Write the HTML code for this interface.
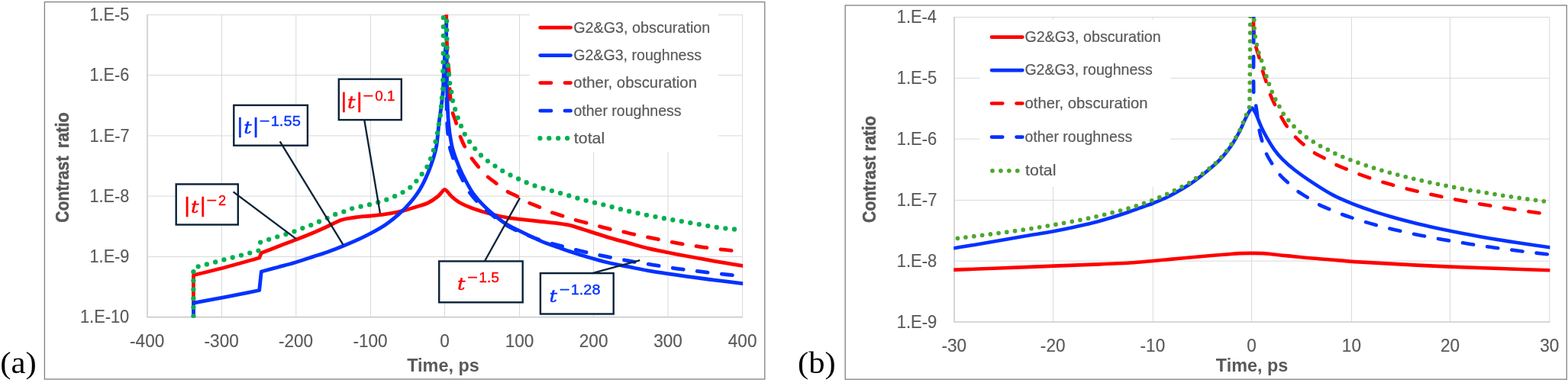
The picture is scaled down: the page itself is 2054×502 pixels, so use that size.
<!DOCTYPE html>
<html lang="en"><head><meta charset="utf-8"><title>Contrast ratio vs time</title>
<style>html,body{margin:0;padding:0;background:#fff;overflow:hidden}svg{display:block}</style></head><body>
<svg width="2054" height="502" viewBox="0 0 2054 502" role="img" aria-label="Contrast ratio versus time, panels (a) and (b)">
<rect width="2054" height="502" fill="#fff"/>
<rect x="58.40" y="2.55" width="943.40" height="494.40" fill="#fff" stroke="#808080" stroke-width="1.3"/>
<path d="M290.50 19.40V415.60M387.80 19.40V415.60M485.40 19.40V415.60M582.50 19.40V415.60M680.50 19.40V415.60M777.60 19.40V415.60M875.00 19.40V415.60M972.60 19.40V415.60M193.00 19.50H972.60M193.00 98.50H972.60M193.00 177.90H972.60M193.00 257.10H972.60M193.00 336.50H972.60" stroke="#d9d9d9" stroke-width="1" fill="none"/>
<path d="M193.00 18.90V415.60H973.10" stroke="#cbcbcb" stroke-width="1.6" fill="none" stroke-linejoin="miter"/>
<rect x="694.0" y="18.0" width="246.6" height="181.5" fill="#fff"/>
<clipPath id="cl"><rect x="192.2" y="18.9" width="781.0" height="397.4"/></clipPath>
<g clip-path="url(#cl)" fill="none" stroke-linejoin="round">
<path d="M253.40 415.50 L253.40 360.80 C267.77 357.20 282.18 353.78 296.50 350.00 C310.88 346.20 325.30 342.00 339.70 338.00 L342.30 331.60 C349.63 328.73 356.95 325.82 364.30 323.00 C371.92 320.08 380.70 316.93 388.00 314.10 C394.73 311.49 401.45 308.81 408.10 306.00 C414.77 303.18 421.43 300.17 428.00 297.20 C434.52 294.25 441.38 290.23 447.50 288.20 C453.03 286.36 458.92 285.79 464.70 285.00 C471.02 284.13 478.92 283.68 485.40 283.00 C491.47 282.36 497.56 281.80 503.60 280.90 C510.08 279.93 517.48 278.80 524.30 277.20 C531.20 275.58 538.97 273.07 545.00 271.20 C550.21 269.59 555.75 268.28 560.50 266.00 C565.17 263.76 570.28 260.07 573.50 257.50 C575.93 255.56 578.27 252.13 579.80 250.60 C580.67 249.73 581.73 248.30 582.70 248.30 C583.67 248.30 584.74 249.71 585.60 250.60 C587.08 252.13 589.34 255.45 591.60 257.50 C594.33 259.98 598.20 263.33 602.00 265.50 C606.53 268.08 613.04 270.91 618.80 273.00 C625.92 275.58 636.93 278.95 644.70 281.00 C651.51 282.80 658.92 284.20 665.40 285.30 C671.43 286.32 677.53 286.88 683.60 287.60 C690.95 288.47 701.73 289.67 709.50 290.50 C716.40 291.24 724.13 291.82 730.20 292.60 C735.46 293.28 740.76 293.90 745.90 295.20 C752.83 296.95 763.19 300.41 771.80 303.10 C780.43 305.80 789.07 308.82 797.70 311.40 C806.28 313.97 814.97 316.23 823.60 318.60 C832.22 320.96 840.87 323.53 849.50 325.60 C858.08 327.65 866.77 329.27 875.40 331.00 C884.02 332.73 892.68 334.38 901.30 336.00 C909.89 337.61 918.49 339.17 927.10 340.70 C935.72 342.23 945.40 343.92 953.00 345.20 C959.56 346.31 966.13 347.33 972.70 348.40" stroke="#ff0000" stroke-width="4.8" stroke-linecap="round"/>
<path d="M253.40 415.50 L253.40 397.10 C267.77 394.43 282.15 391.86 296.50 389.10 C310.88 386.33 325.30 383.37 339.70 380.50 L342.30 356.00 C349.53 354.07 356.77 352.15 364.00 350.20 C371.42 348.20 379.25 346.25 386.80 344.00 C394.42 341.73 402.75 338.87 409.70 336.60 C415.97 334.55 422.29 332.62 428.50 330.40 C435.08 328.05 442.39 325.35 449.20 322.50 C457.40 319.07 468.63 314.32 477.70 309.80 C486.54 305.40 496.27 300.13 503.60 295.40 C510.01 291.26 516.10 286.33 521.70 281.40 C527.20 276.55 532.45 271.37 537.20 265.80 C541.95 260.23 546.42 254.30 550.20 248.00 C554.08 241.53 557.48 234.13 560.50 227.00 C563.51 219.89 566.38 211.37 568.30 205.20 C569.85 200.22 571.21 195.15 572.00 190.00 C573.15 182.47 574.20 168.33 575.20 160.00 C576.00 153.32 577.17 146.67 578.00 140.00 C578.83 133.34 579.72 126.69 580.20 120.00 C580.80 111.67 581.15 98.33 581.60 90.00 C581.96 83.33 582.45 75.13 582.90 70.00 C583.22 66.38 583.83 62.80 584.30 59.20 C584.53 62.80 584.88 66.39 585.00 70.00 C585.17 75.13 585.21 83.33 585.30 90.00 C585.42 98.33 585.40 110.00 585.70 120.00 C586.05 131.67 586.40 148.33 587.40 160.00 C588.26 170.07 589.92 181.55 591.70 190.00 C593.19 197.07 595.73 204.23 598.10 210.70 C600.36 216.87 602.96 222.92 605.90 228.80 C609.35 235.70 614.48 245.62 618.80 252.10 C622.55 257.73 627.12 262.81 631.80 267.70 C636.55 272.67 642.12 277.58 647.30 281.90 C652.29 286.06 657.36 290.20 662.90 293.60 C668.95 297.32 676.64 300.79 683.60 304.20 C691.37 308.00 702.17 313.27 709.50 316.40 C715.41 318.92 721.55 320.84 727.60 323.00 C733.67 325.17 739.76 327.39 745.90 329.40 C753.27 331.82 763.17 334.98 771.80 337.50 C780.39 340.00 789.07 342.47 797.70 344.50 C806.27 346.52 814.97 347.97 823.60 349.70 C832.23 351.43 840.87 353.38 849.50 354.90 C858.10 356.41 866.77 357.52 875.40 358.80 C884.03 360.08 892.68 361.40 901.30 362.60 C909.89 363.80 918.49 364.92 927.10 366.00 C935.72 367.08 945.40 368.15 953.00 369.10 C959.57 369.92 966.13 370.83 972.70 371.70" stroke="#0432ff" stroke-width="4.8" stroke-linecap="round"/>
<path d="M584.70 19.30 C584.77 27.87 584.75 38.22 584.90 45.00 C585.01 50.00 585.36 55.00 585.60 60.00 C585.87 65.50 586.07 72.17 586.50 78.00 C586.92 83.68 587.79 89.32 588.20 95.00 C588.62 100.83 588.73 107.72 589.00 113.00 C589.23 117.57 589.35 122.15 589.80 126.70 C590.32 131.98 590.92 139.32 592.10 144.70 C593.18 149.61 595.40 154.20 596.90 159.00 C598.50 164.13 599.90 170.35 601.70 175.50 C603.42 180.41 605.42 185.23 607.70 189.90 C610.08 194.78 613.02 200.22 616.00 204.80 C618.88 209.23 622.23 213.34 625.60 217.40 C629.10 221.62 633.17 226.47 637.00 230.10 C640.57 233.48 644.70 236.21 648.60 239.20 C652.92 242.52 657.93 246.90 662.90 250.00 C667.81 253.06 673.67 255.28 678.40 257.80 C682.76 260.12 686.85 262.95 691.30 265.10 C696.05 267.40 701.93 269.45 706.90 271.60 C711.66 273.66 716.24 276.18 721.10 278.00 C726.27 279.93 732.72 281.55 737.90 283.20 C742.68 284.72 747.38 286.49 752.20 287.90 C757.38 289.42 763.82 290.92 769.00 292.30 C773.77 293.57 778.53 294.93 783.30 296.20 C788.48 297.58 794.93 299.40 800.10 300.60 C804.80 301.69 809.58 302.38 814.30 303.40 C819.48 304.52 825.55 306.08 831.20 307.30 C837.92 308.75 846.80 310.52 854.60 312.10 C863.90 313.98 876.20 316.65 887.00 318.60 C897.76 320.54 908.62 322.28 919.40 323.80 C930.14 325.31 942.82 326.67 951.70 327.70 C958.69 328.51 965.70 329.23 972.70 330.00" stroke="#ff0000" stroke-width="4.8" stroke-linecap="round" stroke-dasharray="14.2 18.1" stroke-dashoffset="31.94"/>
<path d="M584.65 19.30 C584.67 32.87 584.66 49.88 584.70 60.00 C584.73 66.67 584.86 73.33 584.90 80.00 C584.97 90.00 584.98 106.67 585.10 120.00 C585.22 133.33 585.02 148.33 585.60 160.00 C586.10 170.04 587.23 182.00 588.60 190.00 C589.65 196.16 592.17 203.03 593.80 208.00 C595.12 212.01 596.90 216.22 598.40 219.80 C599.77 223.08 601.17 226.34 602.80 229.50 C605.57 234.87 610.60 245.50 615.00 252.00 C619.07 258.01 624.13 263.43 629.20 268.50 C634.23 273.53 640.00 278.08 645.40 282.40 C650.65 286.60 655.83 290.96 661.60 294.40 C667.97 298.20 676.12 301.92 683.60 305.20 C691.58 308.70 702.13 312.83 709.50 315.40 C715.49 317.49 721.67 318.97 727.80 320.60 C736.02 322.78 748.45 326.03 758.80 328.50 C769.13 330.96 779.50 333.25 789.90 335.40 C800.70 337.63 812.82 339.95 823.60 341.90 C833.91 343.76 844.26 345.44 854.60 347.10 C865.38 348.83 877.50 350.78 888.30 352.30 C898.65 353.75 909.03 354.97 919.40 356.20 C930.18 357.48 944.12 359.03 953.00 360.00 C959.56 360.71 966.13 361.33 972.70 362.00" stroke="#0432ff" stroke-width="4.8" stroke-linecap="round" stroke-dasharray="14.2 18.1" stroke-dashoffset="19.36"/>
<path d="M253.40 415.50 L253.40 351.00 L338.90 328.50 L341.00 317.60 C344.73 316.33 348.50 315.02 352.20 313.80 C355.86 312.60 359.52 311.42 363.20 310.30 C366.93 309.17 370.83 308.18 374.60 307.00 C378.36 305.82 382.12 304.55 385.80 303.20 C389.47 301.86 393.13 300.25 396.70 298.90 C400.18 297.58 403.74 296.47 407.20 295.10 C410.75 293.70 414.41 292.06 418.00 290.50 C421.62 288.93 425.37 287.30 428.90 285.70 C432.35 284.14 435.73 282.25 439.20 280.90 C442.62 279.57 446.23 278.80 449.70 277.60 C453.17 276.40 456.49 274.76 460.00 273.70 C463.80 272.55 468.33 271.69 472.50 270.70 C478.25 269.33 487.28 267.67 494.50 265.50 C501.83 263.30 509.41 260.77 516.50 257.50 C523.62 254.22 531.15 250.72 537.20 245.80 C543.25 240.88 549.08 232.53 552.80 228.00 C555.24 225.02 557.61 221.95 559.50 218.60 C561.40 215.23 562.80 211.40 564.20 207.80 C565.58 204.25 566.84 200.66 567.90 197.00 C568.97 193.32 569.75 189.48 570.60 185.70 C571.45 181.92 572.29 178.12 573.00 174.30 C573.72 170.43 574.25 166.38 574.90 162.50 C575.54 158.66 576.38 154.86 576.90 151.00 C577.42 147.13 577.65 143.18 578.00 139.30 C578.35 135.43 578.64 131.56 579.00 127.70 C579.37 123.82 580.05 119.92 580.20 116.00 C580.43 110.05 580.30 99.83 580.40 92.00 C580.50 84.33 580.76 76.67 580.80 69.00 C580.87 56.00 580.80 32.33 580.80 14.00" stroke="#00b050" stroke-width="6.3" stroke-linecap="round" stroke-dasharray="0 11.65" stroke-dashoffset="10.60"/>
<path d="M585.00 14.00 C585.10 26.00 585.20 41.93 585.30 50.00 C585.35 54.13 585.45 58.38 585.60 62.40 C585.75 66.30 586.00 70.20 586.20 74.10 C586.40 78.02 586.50 81.98 586.80 85.90 C587.10 89.81 587.59 93.70 588.00 97.60 C588.42 101.53 588.77 105.68 589.30 109.50 C589.81 113.19 590.59 116.83 591.20 120.50 C591.83 124.30 592.25 128.43 593.10 132.30 C593.95 136.15 595.17 139.95 596.30 143.70 C597.43 147.42 598.60 151.17 599.90 154.80 C601.19 158.41 602.61 161.97 604.10 165.50 C605.60 169.05 607.05 172.70 608.90 176.10 C610.75 179.50 612.94 182.74 615.20 185.90 C617.48 189.10 620.07 192.30 622.60 195.30 C625.10 198.26 627.61 201.22 630.40 203.90 C633.20 206.58 636.42 209.15 639.40 211.40 C642.26 213.55 645.32 215.42 648.30 217.40 C651.57 219.57 655.27 222.33 659.00 224.40 C664.23 227.30 672.72 231.60 679.70 234.80 C686.66 237.99 693.68 241.06 700.90 243.60 C708.23 246.18 716.23 248.15 723.70 250.30 C731.02 252.41 738.37 254.41 745.70 256.50 C753.12 258.62 760.65 261.00 768.20 263.00 C775.75 265.00 783.53 266.63 791.00 268.50 C798.35 270.34 805.64 272.40 813.00 274.20 C820.55 276.05 828.50 277.95 836.30 279.60 C845.83 281.62 860.80 284.55 870.20 286.30 C877.68 287.69 885.20 288.83 892.70 290.10 C900.25 291.38 907.90 292.71 915.50 294.00 C923.18 295.30 931.03 296.82 938.80 297.90 C946.54 298.98 956.45 299.90 962.10 300.50 C965.63 300.87 969.17 301.17 972.70 301.50" stroke="#00b050" stroke-width="6.3" stroke-linecap="round" stroke-dasharray="0 11.65" stroke-dashoffset="9.63"/>
</g>
<path d="M707.7 36.2H747.5" stroke="#ff0000" stroke-width="4.8" stroke-linecap="round"/>
<text x="751.21" y="42.50" font-family='"Liberation Sans", sans-serif' font-size="20.8" fill="#595959" textLength="179.08" lengthAdjust="spacingAndGlyphs" stroke="#595959" stroke-width="0.2">G2&amp;G3, obscuration</text>
<path d="M707.7 72.6H747.5" stroke="#0432ff" stroke-width="4.8" stroke-linecap="round"/>
<text x="751.21" y="78.90" font-family='"Liberation Sans", sans-serif' font-size="20.8" fill="#595959" textLength="167.90" lengthAdjust="spacingAndGlyphs" stroke="#595959" stroke-width="0.2">G2&amp;G3, roughness</text>
<path d="M707.7 108.6H747.5" stroke="#ff0000" stroke-width="4.8" stroke-linecap="round" stroke-dasharray="14.2 18.1"/>
<text x="751.35" y="114.90" font-family='"Liberation Sans", sans-serif' font-size="20.8" fill="#595959" textLength="161.66" lengthAdjust="spacingAndGlyphs" stroke="#595959" stroke-width="0.2">other, obscuration</text>
<path d="M707.7 145.2H747.5" stroke="#0432ff" stroke-width="4.8" stroke-linecap="round" stroke-dasharray="14.2 18.1"/>
<text x="751.38" y="151.50" font-family='"Liberation Sans", sans-serif' font-size="20.8" fill="#595959" textLength="141.23" lengthAdjust="spacingAndGlyphs" stroke="#595959" stroke-width="0.2">other roughness</text>
<path d="M707.4 181.2H747.8" stroke="#00b050" stroke-width="6.3" stroke-linecap="round" stroke-dasharray="0 11.9"/>
<text x="751.88" y="187.50" font-family='"Liberation Sans", sans-serif' font-size="20.8" fill="#595959" textLength="40.35" lengthAdjust="spacingAndGlyphs" stroke="#595959" stroke-width="0.2">total</text>
<text x="117.55" y="27.10" font-family='"Liberation Sans", sans-serif' font-size="24.3" fill="#595959" textLength="51.76" lengthAdjust="spacingAndGlyphs" stroke="#595959" stroke-width="0.15">1.E-5</text>
<text x="117.55" y="106.10" font-family='"Liberation Sans", sans-serif' font-size="24.3" fill="#595959" textLength="51.80" lengthAdjust="spacingAndGlyphs" stroke="#595959" stroke-width="0.15">1.E-6</text>
<text x="117.54" y="185.50" font-family='"Liberation Sans", sans-serif' font-size="24.3" fill="#595959" textLength="51.95" lengthAdjust="spacingAndGlyphs" stroke="#595959" stroke-width="0.15">1.E-7</text>
<text x="117.55" y="264.70" font-family='"Liberation Sans", sans-serif' font-size="24.3" fill="#595959" textLength="51.79" lengthAdjust="spacingAndGlyphs" stroke="#595959" stroke-width="0.15">1.E-8</text>
<text x="117.55" y="344.10" font-family='"Liberation Sans", sans-serif' font-size="24.3" fill="#595959" textLength="51.88" lengthAdjust="spacingAndGlyphs" stroke="#595959" stroke-width="0.15">1.E-9</text>
<text x="104.94" y="423.20" font-family='"Liberation Sans", sans-serif' font-size="24.3" fill="#595959" textLength="64.32" lengthAdjust="spacingAndGlyphs" stroke="#595959" stroke-width="0.15">1.E-10</text>
<text x="170.08" y="455.00" font-family='"Liberation Sans", sans-serif' font-size="24.3" fill="#595959" textLength="45.23" lengthAdjust="spacingAndGlyphs" stroke="#595959" stroke-width="0.15">-400</text>
<text x="267.58" y="455.00" font-family='"Liberation Sans", sans-serif' font-size="24.3" fill="#595959" textLength="45.23" lengthAdjust="spacingAndGlyphs" stroke="#595959" stroke-width="0.15">-300</text>
<text x="364.88" y="455.00" font-family='"Liberation Sans", sans-serif' font-size="24.3" fill="#595959" textLength="45.23" lengthAdjust="spacingAndGlyphs" stroke="#595959" stroke-width="0.15">-200</text>
<text x="462.48" y="455.00" font-family='"Liberation Sans", sans-serif' font-size="24.3" fill="#595959" textLength="45.23" lengthAdjust="spacingAndGlyphs" stroke="#595959" stroke-width="0.15">-100</text>
<text x="576.22" y="455.00" font-family='"Liberation Sans", sans-serif' font-size="24.3" fill="#595959" textLength="12.57" lengthAdjust="spacingAndGlyphs" stroke="#595959" stroke-width="0.15">0</text>
<text x="661.65" y="455.00" font-family='"Liberation Sans", sans-serif' font-size="24.3" fill="#595959" textLength="37.71" lengthAdjust="spacingAndGlyphs" stroke="#595959" stroke-width="0.15">100</text>
<text x="758.75" y="455.00" font-family='"Liberation Sans", sans-serif' font-size="24.3" fill="#595959" textLength="37.71" lengthAdjust="spacingAndGlyphs" stroke="#595959" stroke-width="0.15">200</text>
<text x="856.15" y="455.00" font-family='"Liberation Sans", sans-serif' font-size="24.3" fill="#595959" textLength="37.71" lengthAdjust="spacingAndGlyphs" stroke="#595959" stroke-width="0.15">300</text>
<text x="953.75" y="455.00" font-family='"Liberation Sans", sans-serif' font-size="24.3" fill="#595959" textLength="37.71" lengthAdjust="spacingAndGlyphs" stroke="#595959" stroke-width="0.15">400</text>
<text transform="translate(90.30 290.80) rotate(-90)" font-family='"Liberation Sans", sans-serif' font-size="24.2" font-weight="bold" fill="#595959" stroke="#595959" stroke-width="0.5"><tspan x="-0.87" y="0" textLength="87.13" lengthAdjust="spacingAndGlyphs">Contrast</tspan><tspan x="90.53" y="0" textLength="53.12" lengthAdjust="spacingAndGlyphs"> ratio</tspan></text>
<text x="533.24" y="487.10" font-family='"Liberation Sans", sans-serif' font-size="24.3" font-weight="bold" fill="#595959" textLength="94.52" lengthAdjust="spacingAndGlyphs" >Time, ps</text>
<rect x="230.70" y="241.40" width="81.10" height="53.10" fill="#fff" stroke="#0a2238" stroke-width="2.4"/>
<path d="M305.5 251.4L388.0 313.2" stroke="#0a2238" stroke-width="2.3" fill="none"/>
<text x="241.6" y="278.2" font-family='"Liberation Sans", sans-serif' font-size="27.4" font-weight="normal" text-anchor="start" fill="#ff0000" stroke="#ff0000" stroke-width="0.5">|</text>
<text x="262.2" y="278.2" font-family='"Liberation Sans", sans-serif' font-size="27.4" font-weight="normal" text-anchor="start" fill="#ff0000" stroke="#ff0000" stroke-width="0.5">|</text>
<text x="249.97" y="279.10" font-family='"DejaVu Serif", "Liberation Serif", serif' font-size="23.0" font-style="italic" fill="#ff0000" textLength="10.49" lengthAdjust="spacingAndGlyphs" stroke="#ff0000" stroke-width="0.45">t</text>
<text x="270.54" y="269.00" font-family='"Liberation Sans", sans-serif' font-size="18.8" fill="#ff0000" textLength="13.70" lengthAdjust="spacingAndGlyphs" stroke="#ff0000" stroke-width="0.35">−</text>
<text x="286.08" y="269.00" font-family='"Liberation Sans", sans-serif' font-size="18.8" fill="#ff0000" textLength="10.13" lengthAdjust="spacingAndGlyphs" stroke="#ff0000" stroke-width="0.35">2</text>
<rect x="306.30" y="137.90" width="96.60" height="52.80" fill="#fff" stroke="#0a2238" stroke-width="2.4"/>
<path d="M366.7 185.3L449.7 321.2" stroke="#0a2238" stroke-width="2.3" fill="none"/>
<text x="310.8" y="174.1" font-family='"Liberation Sans", sans-serif' font-size="27.4" font-weight="normal" text-anchor="start" fill="#0432ff" stroke="#0432ff" stroke-width="0.5">|</text>
<text x="331.4" y="174.1" font-family='"Liberation Sans", sans-serif' font-size="27.4" font-weight="normal" text-anchor="start" fill="#0432ff" stroke="#0432ff" stroke-width="0.5">|</text>
<text x="319.17" y="175.00" font-family='"DejaVu Serif", "Liberation Serif", serif' font-size="23.0" font-style="italic" fill="#0432ff" textLength="10.49" lengthAdjust="spacingAndGlyphs" stroke="#0432ff" stroke-width="0.45">t</text>
<text x="339.74" y="164.90" font-family='"Liberation Sans", sans-serif' font-size="18.8" fill="#0432ff" textLength="13.70" lengthAdjust="spacingAndGlyphs" stroke="#0432ff" stroke-width="0.35">−</text>
<text x="354.67" y="164.90" font-family='"Liberation Sans", sans-serif' font-size="18.8" fill="#0432ff" textLength="39.18" lengthAdjust="spacingAndGlyphs" stroke="#0432ff" stroke-width="0.35">1.55</text>
<rect x="443.80" y="103.70" width="82.00" height="53.40" fill="#fff" stroke="#0a2238" stroke-width="2.4"/>
<path d="M477.3 157.5L497.9 279.5" stroke="#0a2238" stroke-width="2.3" fill="none"/>
<text x="446.7" y="140.7" font-family='"Liberation Sans", sans-serif' font-size="27.4" font-weight="normal" text-anchor="start" fill="#ff0000" stroke="#ff0000" stroke-width="0.5">|</text>
<text x="467.3" y="140.7" font-family='"Liberation Sans", sans-serif' font-size="27.4" font-weight="normal" text-anchor="start" fill="#ff0000" stroke="#ff0000" stroke-width="0.5">|</text>
<text x="455.07" y="141.60" font-family='"DejaVu Serif", "Liberation Serif", serif' font-size="23.0" font-style="italic" fill="#ff0000" textLength="10.49" lengthAdjust="spacingAndGlyphs" stroke="#ff0000" stroke-width="0.45">t</text>
<text x="475.64" y="131.50" font-family='"Liberation Sans", sans-serif' font-size="18.8" fill="#ff0000" textLength="13.70" lengthAdjust="spacingAndGlyphs" stroke="#ff0000" stroke-width="0.35">−</text>
<text x="491.36" y="131.50" font-family='"Liberation Sans", sans-serif' font-size="18.8" fill="#ff0000" textLength="26.26" lengthAdjust="spacingAndGlyphs" stroke="#ff0000" stroke-width="0.35">0.1</text>
<rect x="575.20" y="342.40" width="109.50" height="53.90" fill="#fff" stroke="#0a2238" stroke-width="2.4"/>
<path d="M634.8 342.5L681.0 259.4" stroke="#0a2238" stroke-width="2.3" fill="none"/>
<text x="598.97" y="380.40" font-family='"DejaVu Serif", "Liberation Serif", serif' font-size="23.0" font-style="italic" fill="#ff0000" textLength="10.49" lengthAdjust="spacingAndGlyphs" stroke="#ff0000" stroke-width="0.45">t</text>
<text x="612.24" y="370.30" font-family='"Liberation Sans", sans-serif' font-size="18.8" fill="#ff0000" textLength="13.70" lengthAdjust="spacingAndGlyphs" stroke="#ff0000" stroke-width="0.35">−</text>
<text x="627.23" y="370.30" font-family='"Liberation Sans", sans-serif' font-size="18.8" fill="#ff0000" textLength="26.78" lengthAdjust="spacingAndGlyphs" stroke="#ff0000" stroke-width="0.35">1.5</text>
<rect x="707.90" y="358.10" width="95.80" height="53.40" fill="#fff" stroke="#0a2238" stroke-width="2.4"/>
<path d="M775.8 358.2L838.3 341.1" stroke="#0a2238" stroke-width="2.3" fill="none"/>
<text x="719.57" y="395.60" font-family='"DejaVu Serif", "Liberation Serif", serif' font-size="23.0" font-style="italic" fill="#0432ff" textLength="10.49" lengthAdjust="spacingAndGlyphs" stroke="#0432ff" stroke-width="0.45">t</text>
<text x="732.84" y="385.50" font-family='"Liberation Sans", sans-serif' font-size="18.8" fill="#0432ff" textLength="13.70" lengthAdjust="spacingAndGlyphs" stroke="#0432ff" stroke-width="0.35">−</text>
<text x="747.79" y="385.50" font-family='"Liberation Sans", sans-serif' font-size="18.8" fill="#0432ff" textLength="38.68" lengthAdjust="spacingAndGlyphs" stroke="#0432ff" stroke-width="0.35">1.28</text>
<rect x="1107.20" y="7.00" width="945.10" height="490.20" fill="#fff" stroke="#808080" stroke-width="1.3"/>
<path d="M1379.50 22.50V422.00M1510.20 22.50V422.00M1639.60 22.50V422.00M1770.40 22.50V422.00M1899.50 22.50V422.00M2029.80 22.50V422.00M1250.10 22.50H2029.80M1250.10 102.40H2029.80M1250.10 182.20H2029.80M1250.10 262.40H2029.80M1250.10 342.10H2029.80" stroke="#d9d9d9" stroke-width="1" fill="none"/>
<path d="M1250.10 22.00V422.00H2030.30" stroke="#cbcbcb" stroke-width="1.6" fill="none" stroke-linejoin="miter"/>
<rect x="1283.3" y="25.6" width="250.0" height="219.4" fill="#fff"/>
<clipPath id="cr"><rect x="1249.3" y="22.0" width="781.1" height="400.7"/></clipPath>
<g clip-path="url(#cr)" fill="none" stroke-linejoin="round">
<path d="M1250.00 353.60 C1267.33 353.00 1284.67 352.47 1302.00 351.80 C1323.63 350.97 1356.80 349.50 1379.80 348.60 C1399.86 347.81 1423.30 347.08 1440.00 346.40 C1453.34 345.85 1468.28 345.23 1480.00 344.50 C1490.11 343.87 1500.20 342.89 1510.30 342.00 C1521.08 341.05 1533.23 339.85 1544.70 338.80 C1556.92 337.68 1572.80 336.22 1583.60 335.30 C1592.23 334.57 1602.93 333.83 1609.50 333.30 C1614.00 332.93 1618.49 332.31 1623.00 332.10 C1628.08 331.87 1634.67 331.90 1640.00 331.90 C1645.00 331.90 1650.60 331.87 1655.00 332.10 C1658.82 332.30 1662.60 332.91 1666.40 333.30 C1671.75 333.85 1680.20 334.70 1687.10 335.40 C1694.87 336.18 1704.37 337.23 1713.00 338.00 C1721.63 338.77 1730.27 339.30 1738.90 340.00 C1750.07 340.90 1766.28 342.58 1780.00 343.40 C1806.70 345.00 1859.38 347.87 1899.10 349.60 C1940.77 351.42 1986.37 352.73 2030.00 354.30" stroke="#ff0000" stroke-width="4.6" stroke-linecap="round"/>
<path d="M1250.00 325.20 C1258.77 323.77 1267.62 322.33 1276.30 320.90 C1284.90 319.48 1293.50 318.06 1302.10 316.60 C1310.72 315.13 1319.37 313.60 1328.00 312.10 C1336.63 310.60 1345.27 309.08 1353.90 307.60 C1362.53 306.12 1371.19 304.80 1379.80 303.20 C1388.43 301.60 1397.09 299.85 1405.70 298.00 C1414.33 296.15 1423.02 294.30 1431.60 292.10 C1440.23 289.88 1449.73 287.05 1457.50 284.70 C1464.44 282.60 1471.34 280.35 1478.20 278.00 C1485.10 275.63 1493.55 272.42 1498.90 270.50 C1502.69 269.14 1506.57 268.03 1510.30 266.50 C1515.78 264.25 1524.84 260.60 1531.80 257.00 C1539.70 252.92 1550.17 246.88 1557.70 242.00 C1564.42 237.64 1570.78 232.74 1577.00 227.70 C1583.70 222.27 1591.83 215.67 1597.90 209.40 C1603.64 203.47 1609.07 196.33 1613.40 190.10 C1617.38 184.37 1620.87 177.82 1623.90 172.00 C1626.75 166.54 1629.33 159.78 1631.60 155.20 C1633.41 151.55 1636.00 146.77 1637.50 144.50 C1638.28 143.32 1639.57 142.57 1640.60 141.60 C1642.07 144.00 1643.81 146.25 1645.00 148.80 C1646.98 153.03 1650.02 161.60 1652.50 167.00 C1654.73 171.85 1657.24 176.57 1659.90 181.20 C1662.75 186.15 1666.28 192.13 1669.60 196.70 C1672.67 200.93 1676.09 204.92 1679.80 208.60 C1684.13 212.90 1690.06 218.20 1695.60 222.50 C1702.22 227.63 1711.35 234.04 1719.50 239.40 C1727.83 244.88 1737.18 250.92 1745.60 255.40 C1753.46 259.59 1761.75 262.94 1770.00 266.30 C1778.40 269.72 1787.33 272.94 1796.00 275.90 C1804.59 278.83 1813.33 281.50 1822.00 284.03 C1830.62 286.54 1839.33 288.86 1848.00 291.06 C1856.63 293.26 1865.33 295.30 1874.00 297.26 C1882.64 299.21 1891.33 301.05 1900.00 302.81 C1908.65 304.57 1917.33 306.24 1926.00 307.84 C1934.65 309.44 1943.33 310.95 1952.00 312.42 C1960.66 313.89 1969.33 315.29 1978.00 316.64 C1986.66 317.99 1995.33 319.29 2004.00 320.54 C2012.66 321.79 2021.33 322.96 2030.00 324.17" stroke="#0432ff" stroke-width="4.6" stroke-linecap="round"/>
<path d="M1642.00 22.50 C1642.10 28.33 1641.86 34.18 1642.30 40.00 C1642.77 46.17 1643.57 53.47 1644.80 59.50 C1645.96 65.18 1648.23 70.85 1649.70 76.20 C1651.10 81.31 1652.13 86.51 1653.60 91.60 C1655.12 96.85 1657.12 102.47 1658.80 107.70 C1660.44 112.80 1661.77 118.00 1663.70 123.00 C1665.67 128.10 1668.20 133.35 1670.60 138.30 C1672.96 143.17 1675.55 148.13 1678.10 152.70 C1680.56 157.11 1683.00 161.56 1685.90 165.70 C1689.02 170.15 1693.27 175.52 1696.80 179.40 C1699.96 182.87 1703.50 185.99 1707.10 189.00 C1711.33 192.53 1717.67 197.58 1722.20 200.60 C1726.01 203.14 1730.29 204.89 1734.30 207.10 C1738.90 209.63 1744.85 213.35 1749.80 215.80 C1754.41 218.08 1760.63 220.35 1764.00 221.80 C1766.01 222.67 1767.95 223.72 1770.00 224.50 C1775.33 226.51 1787.33 231.00 1796.00 233.89 C1804.60 236.76 1813.33 239.36 1822.00 241.83 C1830.62 244.29 1839.33 246.55 1848.00 248.71 C1856.64 250.86 1865.33 252.87 1874.00 254.78 C1882.64 256.69 1891.33 258.48 1900.00 260.20 C1908.65 261.92 1917.33 263.55 1926.00 265.11 C1934.65 266.67 1943.33 268.15 1952.00 269.59 C1960.66 271.02 1969.33 272.40 1978.00 273.72 C1986.66 275.04 1995.33 276.30 2004.00 277.53 C2012.66 278.76 2021.33 279.90 2030.00 281.09" stroke="#ff0000" stroke-width="4.6" stroke-linecap="round" stroke-dasharray="14.3 18.2" stroke-dashoffset="25.40"/>
<path d="M1642.30 22.50 C1642.30 56.67 1641.85 105.88 1642.30 125.00 C1642.40 129.16 1644.25 133.10 1645.00 137.20 C1645.80 141.60 1646.44 146.66 1647.10 151.40 C1647.88 157.00 1648.67 165.18 1649.70 170.80 C1650.59 175.63 1651.91 180.39 1653.30 185.10 C1654.77 190.07 1656.43 195.85 1658.50 200.60 C1660.48 205.14 1663.04 209.42 1665.70 213.60 C1668.72 218.35 1673.15 224.92 1676.60 229.10 C1679.51 232.63 1683.03 235.61 1686.40 238.70 C1690.32 242.30 1695.67 247.32 1700.10 250.70 C1704.16 253.80 1708.68 256.27 1713.00 259.00 C1717.57 261.88 1722.67 265.43 1727.50 268.00 C1732.17 270.48 1737.14 272.33 1742.00 274.40 C1747.00 276.53 1752.83 279.02 1757.50 280.80 C1761.62 282.37 1765.80 283.75 1770.00 285.10 C1776.42 287.16 1787.33 290.67 1796.00 293.15 C1804.61 295.61 1813.33 297.84 1822.00 299.96 C1830.63 302.07 1839.33 304.01 1848.00 305.86 C1856.64 307.71 1865.33 309.42 1874.00 311.06 C1882.65 312.70 1891.33 314.23 1900.00 315.71 C1908.65 317.18 1917.33 318.58 1926.00 319.92 C1934.66 321.26 1943.33 322.54 1952.00 323.77 C1960.66 325.00 1969.33 326.17 1978.00 327.30 C1986.66 328.43 1995.33 329.53 2004.00 330.58 C2012.66 331.63 2021.33 332.61 2030.00 333.62" stroke="#0432ff" stroke-width="4.6" stroke-linecap="round" stroke-dasharray="14.3 18.2" stroke-dashoffset="13.56"/>
<path d="M1250.00 313.00 C1251.50 312.77 1252.99 312.49 1254.50 312.30 C1262.42 311.28 1283.22 308.75 1297.50 306.90 C1311.74 305.06 1326.00 303.32 1340.20 301.20 C1354.40 299.08 1368.56 296.69 1382.70 294.20 C1396.90 291.70 1413.02 288.78 1425.40 286.20 C1436.00 283.99 1448.23 280.87 1457.00 278.70 C1464.02 276.96 1471.10 275.23 1478.00 273.20 C1484.87 271.18 1493.28 268.22 1498.40 266.50 C1501.85 265.34 1505.30 264.20 1508.70 262.90 C1512.10 261.60 1515.52 260.08 1518.80 258.70 C1522.01 257.35 1525.24 256.06 1528.40 254.60 C1531.65 253.10 1535.02 251.30 1538.30 249.70 C1541.56 248.11 1544.87 246.65 1548.10 245.00 C1551.33 243.35 1554.63 241.68 1557.70 239.80 C1560.74 237.93 1563.60 235.70 1566.50 233.70 C1569.36 231.73 1572.29 229.84 1575.10 227.80 C1577.95 225.73 1580.81 223.52 1583.60 221.30 C1586.40 219.07 1589.27 216.85 1591.90 214.40 C1594.58 211.90 1597.23 209.03 1599.70 206.30 C1602.12 203.61 1604.47 200.85 1606.70 198.00 C1608.95 195.12 1611.13 192.02 1613.20 189.00 C1615.24 186.02 1617.25 183.01 1619.10 179.90 C1620.95 176.78 1622.72 173.58 1624.30 170.30 C1625.90 166.98 1627.28 163.37 1628.70 160.00 C1630.09 156.71 1631.50 153.33 1632.80 150.10 C1634.07 146.95 1635.27 143.77 1636.50 140.60 C1636.67 137.03 1636.88 133.40 1637.00 129.90 C1637.11 126.47 1637.18 123.03 1637.20 119.60 C1637.33 100.78 1637.60 51.20 1637.80 17.00" stroke="#4ea72e" stroke-width="5.7" stroke-linecap="round" stroke-dasharray="0 10.82" stroke-dashoffset="6.34"/>
<path d="M1642.80 17.00 C1642.80 19.93 1642.77 22.87 1642.80 25.80 C1642.83 29.05 1642.79 32.94 1643.00 36.50 C1643.22 40.10 1643.57 43.80 1644.10 47.40 C1644.63 51.00 1645.43 54.57 1646.20 58.10 C1646.96 61.62 1647.68 65.17 1648.70 68.60 C1649.71 72.03 1651.21 75.30 1652.30 78.70 C1653.40 82.13 1654.22 85.72 1655.30 89.20 C1656.38 92.68 1657.63 96.13 1658.80 99.60 C1659.97 103.07 1661.07 106.57 1662.30 110.00 C1663.53 113.43 1664.82 116.87 1666.20 120.20 C1667.57 123.51 1669.02 126.83 1670.60 130.00 C1672.17 133.14 1674.01 136.13 1675.70 139.20 C1677.48 142.43 1679.30 146.37 1681.30 149.40 C1683.18 152.25 1685.50 154.79 1687.70 157.40 C1689.98 160.12 1692.50 163.12 1695.00 165.70 C1697.44 168.23 1700.05 170.59 1702.70 172.90 C1705.42 175.27 1708.35 177.73 1711.30 179.90 C1714.23 182.05 1717.32 183.97 1720.40 185.90 C1723.50 187.85 1726.75 189.88 1729.90 191.60 C1732.96 193.27 1736.19 194.63 1739.30 196.20 C1742.50 197.82 1745.74 199.80 1749.10 201.30 C1754.22 203.58 1762.95 207.24 1770.00 209.90 C1777.82 212.85 1787.33 216.21 1796.00 219.01 C1804.60 221.79 1813.33 224.31 1822.00 226.70 C1830.62 229.08 1839.33 231.28 1848.00 233.37 C1856.64 235.46 1865.33 237.40 1874.00 239.26 C1882.65 241.11 1891.33 242.85 1900.00 244.52 C1908.65 246.19 1917.33 247.76 1926.00 249.28 C1934.66 250.79 1943.33 252.23 1952.00 253.62 C1960.66 255.01 1969.33 256.34 1978.00 257.62 C1986.66 258.90 1995.33 260.13 2004.00 261.32 C2012.66 262.51 2021.33 263.62 2030.00 264.77" stroke="#4ea72e" stroke-width="5.7" stroke-linecap="round" stroke-dasharray="0 10.82" stroke-dashoffset="1.43"/>
</g>
<path d="M1299.0 48.6H1339.4" stroke="#ff0000" stroke-width="4.6" stroke-linecap="round"/>
<text x="1342.41" y="54.90" font-family='"Liberation Sans", sans-serif' font-size="20.8" fill="#595959" textLength="178.37" lengthAdjust="spacingAndGlyphs" stroke="#595959" stroke-width="0.2">G2&amp;G3, obscuration</text>
<path d="M1299.0 92.1H1339.4" stroke="#0432ff" stroke-width="4.6" stroke-linecap="round"/>
<text x="1342.42" y="98.40" font-family='"Liberation Sans", sans-serif' font-size="20.8" fill="#595959" textLength="167.49" lengthAdjust="spacingAndGlyphs" stroke="#595959" stroke-width="0.2">G2&amp;G3, roughness</text>
<path d="M1299.0 135.5H1339.4" stroke="#ff0000" stroke-width="4.6" stroke-linecap="round" stroke-dasharray="14.3 18.2"/>
<text x="1342.56" y="141.80" font-family='"Liberation Sans", sans-serif' font-size="20.8" fill="#595959" textLength="160.95" lengthAdjust="spacingAndGlyphs" stroke="#595959" stroke-width="0.2">other, obscuration</text>
<path d="M1299.0 179.6H1339.4" stroke="#0432ff" stroke-width="4.6" stroke-linecap="round" stroke-dasharray="14.3 18.2"/>
<text x="1342.58" y="185.90" font-family='"Liberation Sans", sans-serif' font-size="20.8" fill="#595959" textLength="140.62" lengthAdjust="spacingAndGlyphs" stroke="#595959" stroke-width="0.2">other roughness</text>
<path d="M1300.0 223.8H1339.9" stroke="#4ea72e" stroke-width="5.7" stroke-linecap="round" stroke-dasharray="0 10.93"/>
<text x="1343.08" y="230.10" font-family='"Liberation Sans", sans-serif' font-size="20.8" fill="#595959" textLength="40.35" lengthAdjust="spacingAndGlyphs" stroke="#595959" stroke-width="0.2">total</text>
<text x="1174.74" y="30.10" font-family='"Liberation Sans", sans-serif' font-size="24.3" fill="#595959" textLength="52.20" lengthAdjust="spacingAndGlyphs" stroke="#595959" stroke-width="0.15">1.E-4</text>
<text x="1174.73" y="110.00" font-family='"Liberation Sans", sans-serif' font-size="24.3" fill="#595959" textLength="52.50" lengthAdjust="spacingAndGlyphs" stroke="#595959" stroke-width="0.15">1.E-5</text>
<text x="1174.73" y="189.80" font-family='"Liberation Sans", sans-serif' font-size="24.3" fill="#595959" textLength="52.54" lengthAdjust="spacingAndGlyphs" stroke="#595959" stroke-width="0.15">1.E-6</text>
<text x="1174.72" y="270.00" font-family='"Liberation Sans", sans-serif' font-size="24.3" fill="#595959" textLength="52.69" lengthAdjust="spacingAndGlyphs" stroke="#595959" stroke-width="0.15">1.E-7</text>
<text x="1174.73" y="349.70" font-family='"Liberation Sans", sans-serif' font-size="24.3" fill="#595959" textLength="52.53" lengthAdjust="spacingAndGlyphs" stroke="#595959" stroke-width="0.15">1.E-8</text>
<text x="1174.72" y="429.60" font-family='"Liberation Sans", sans-serif' font-size="24.3" fill="#595959" textLength="52.62" lengthAdjust="spacingAndGlyphs" stroke="#595959" stroke-width="0.15">1.E-9</text>
<text x="1233.47" y="460.70" font-family='"Liberation Sans", sans-serif' font-size="24.3" fill="#595959" textLength="32.66" lengthAdjust="spacingAndGlyphs" stroke="#595959" stroke-width="0.15">-30</text>
<text x="1362.87" y="460.70" font-family='"Liberation Sans", sans-serif' font-size="24.3" fill="#595959" textLength="32.66" lengthAdjust="spacingAndGlyphs" stroke="#595959" stroke-width="0.15">-20</text>
<text x="1493.57" y="460.70" font-family='"Liberation Sans", sans-serif' font-size="24.3" fill="#595959" textLength="32.66" lengthAdjust="spacingAndGlyphs" stroke="#595959" stroke-width="0.15">-10</text>
<text x="1633.32" y="460.70" font-family='"Liberation Sans", sans-serif' font-size="24.3" fill="#595959" textLength="12.57" lengthAdjust="spacingAndGlyphs" stroke="#595959" stroke-width="0.15">0</text>
<text x="1757.83" y="460.70" font-family='"Liberation Sans", sans-serif' font-size="24.3" fill="#595959" textLength="25.14" lengthAdjust="spacingAndGlyphs" stroke="#595959" stroke-width="0.15">10</text>
<text x="1886.93" y="460.70" font-family='"Liberation Sans", sans-serif' font-size="24.3" fill="#595959" textLength="25.14" lengthAdjust="spacingAndGlyphs" stroke="#595959" stroke-width="0.15">20</text>
<text x="2017.23" y="460.70" font-family='"Liberation Sans", sans-serif' font-size="24.3" fill="#595959" textLength="25.14" lengthAdjust="spacingAndGlyphs" stroke="#595959" stroke-width="0.15">30</text>
<text transform="translate(1147.40 291.10) rotate(-90)" x="-0.88" y="0" font-family='"Liberation Sans", sans-serif' font-size="24.2" font-weight="bold" fill="#595959" textLength="140.11" lengthAdjust="spacingAndGlyphs" stroke="#595959" stroke-width="0.5">Contrast ratio</text>
<text x="1592.84" y="487.10" font-family='"Liberation Sans", sans-serif' font-size="24.3" font-weight="bold" fill="#595959" textLength="94.31" lengthAdjust="spacingAndGlyphs" >Time, ps</text>
<text x="0.22" y="489.30" font-family='"Liberation Serif", serif' font-size="41" fill="#000" textLength="47.57" lengthAdjust="spacingAndGlyphs" >(a)</text>
<text x="1045.13" y="489.30" font-family='"Liberation Serif", serif' font-size="41" fill="#000" textLength="49.64" lengthAdjust="spacingAndGlyphs" >(b)</text>
</svg></body></html>
